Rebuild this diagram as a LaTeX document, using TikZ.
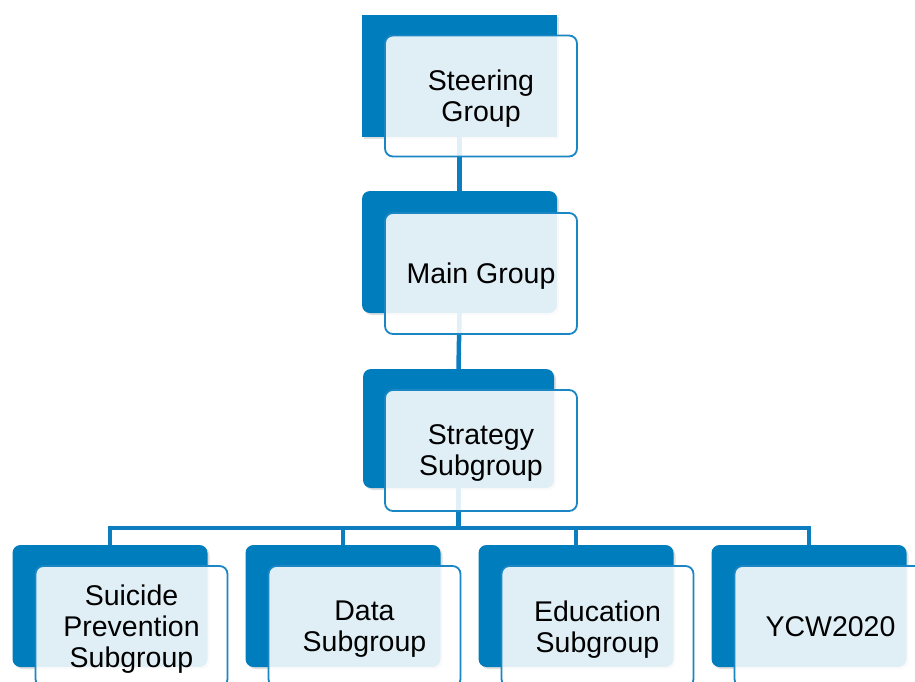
\documentclass[tikz,border=0pt]{standalone}
\usepackage{fontspec}
\setmainfont{Liberation Sans}
\usepackage{tikz}
\usetikzlibrary{calc,shadows}
\definecolor{deep}{HTML}{007DBC}
\definecolor{rim}{HTML}{1A86C4}
\definecolor{link}{HTML}{0C7EC0}
\tikzset{
  back/.style={rectangle, fill=deep, rounded corners=8pt, inner sep=0pt,
    minimum width=195pt, minimum height=122pt,
    drop shadow={shadow xshift=2pt, shadow yshift=-2pt, opacity=0.25}},
  front/.style={rectangle, draw=rim, line width=1.8pt, fill=white,
    fill opacity=0.88, text opacity=1, rounded corners=8pt, inner sep=0pt,
    minimum width=192pt, minimum height=121pt, align=center, text depth=0pt,
    font=\fontsize{28.5}{31}\selectfont},
  conn/.style={draw=link, line width=4.5pt},
}

\begin{document}
\begin{tikzpicture}[x=1pt,y=-1pt]
  \useasboundingbox (0,0) rectangle (915,681);
  \clip (0,0) rectangle (915,681);
  % top of the chart
  \node[back, sharp corners] (steerback) at (459.5,75.5) {};
  \node[back] (mainback) at (459.5,252) {};
  \node[back, minimum width=191pt, minimum height=119pt] (stratback) at (458.5,428.5) {};
  \draw[conn] (steerback.south) -- (mainback.north);
  \draw[conn] (mainback.south) -- (stratback.north);
  \node[front] (steer) at ($(steerback)+(21.5,20.5)$) {Steering\\Group};
  \node[front] (main) at ($(mainback)+(21.5,21.5)$) {Main Group};
  % subgroups
  \foreach \name/\x/\txt in {sui/110/{Suicide\\Prevention\\Subgroup},
      data/343/{Data\\Subgroup}, edu/576/{Education\\Subgroup}, ycw/809/{YCW2020}} {
    \node[back] (\name back) at (\x,606) {};
    \draw[conn] (stratback.south) -- ++(0,40) -| (\name back.north);
    \node[front] (\name) at ($(\name back)+(21.5,20.5)$) {\txt};
  }
  \node[front] (strat) at ($(stratback)+(22.5,22)$) {Strategy\\Subgroup};
\end{tikzpicture}
\end{document}
